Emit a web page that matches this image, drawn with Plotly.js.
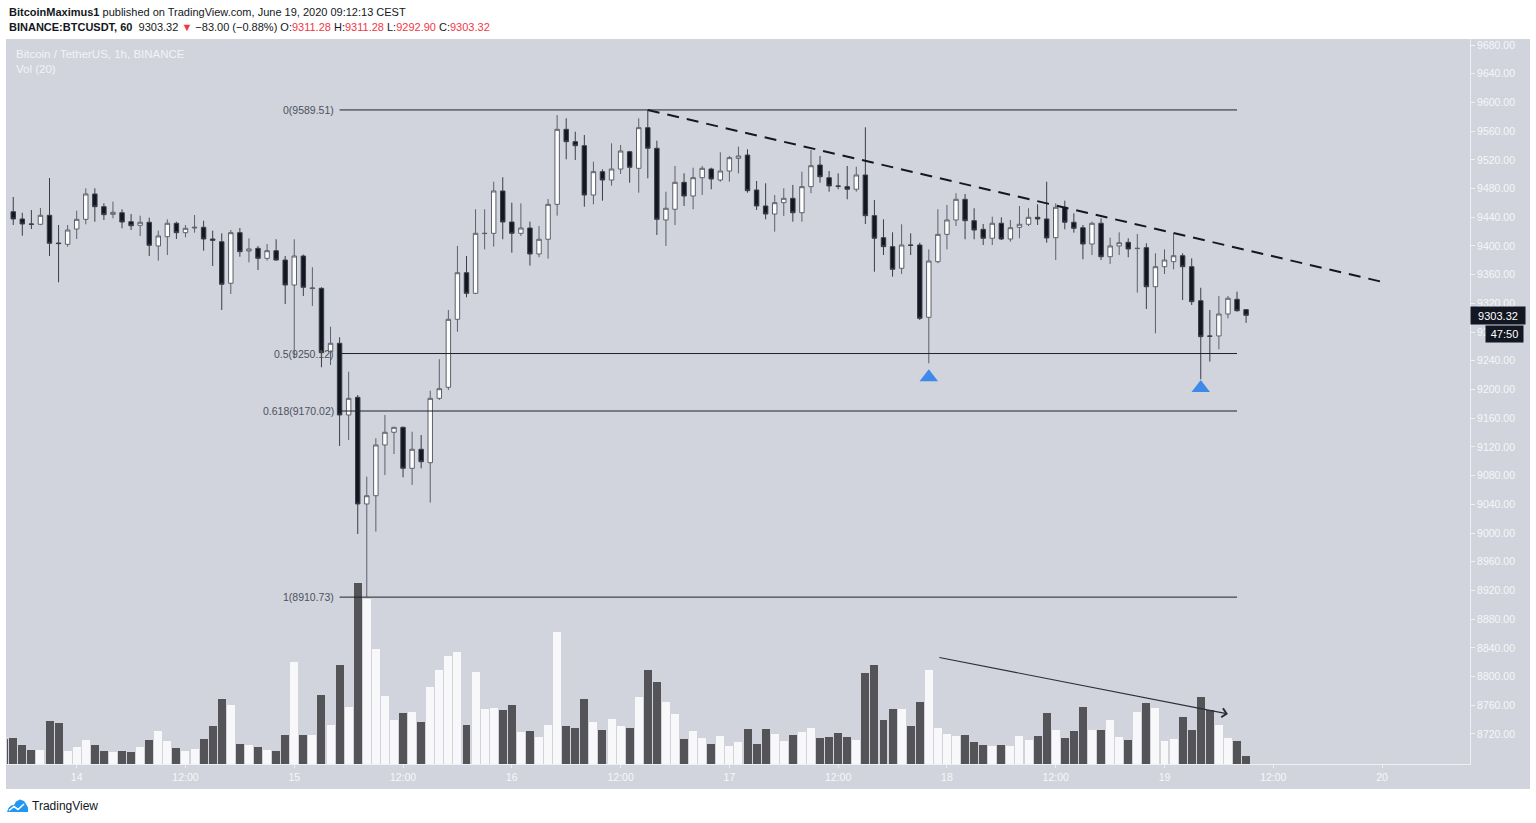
<!DOCTYPE html>
<html><head><meta charset="utf-8">
<script src="https://cdn.plot.ly/plotly-3.0.1.min.js"></script>
<style>html,body{margin:0;padding:0;background:#fff;overflow:hidden}#chart{width:1536px;height:823px}</style>
</head><body><div id="chart"></div>
<script>
// ---------- DATA ----------
const startTime = '2020-06-13T16:00:00Z'; // first (partly hidden) hourly candle
const openP = [
9447.3,9447.7,9437.6,9430.6,9430.2,9442.7,9404.1,9402.3,9423.6,9437.1,
9472.4,9454.7,9444.1,9446.3,9433.8,9428.8,9433.0,9400.0,9412.9,9431.6,
9418.5,9425.0,9426.0,9409.7,9405.9,9348.0,9418.5,9393.0,9396.7,9382.8,
9393.4,9380.4,9345.6,9386.0,9340.6,9341.0,9252.7,9264.4,9164.5,9189.1,
9040.5,9052.0,9122.7,9140.4,9147.3,9090.2,9116.7,9098.0,9187.7,9203.1,
9297.8,9362.7,9334.0,9417.2,9417.6,9476.6,9433.4,9417.6,9425.0,9388.8,
9409.3,9458.0,9562.5,9545.3,9539.7,9471.0,9503.5,9491.9,9507.2,9531.3,
9508.2,9564.8,9536.1,9436.2,9451.1,9488.7,9469.6,9495.1,9507.2,9491.9,
9504.4,9522.1,9526.7,9478.0,9455.7,9444.5,9460.3,9466.4,9446.3,9482.6,
9512.8,9495.1,9483.6,9482.6,9479.0,9498.9,9442.2,9411.5,9399.0,9368.9,
9401.3,9401.3,9300.6,9378.1,9416.2,9436.2,9465.0,9435.2,9423.2,9410.7,
9431.6,9409.7,9426.0,9430.2,9439.9,9437.6,9411.5,9453.9,9433.0,9425.4,
9402.7,9431.6,9385.0,9400.0,9405.1,9396.3,9397.6,9343.2,9371.1,9378.1,
9386.4,9371.1,9323.7,9274.6,9274.6,9305.2,9325.7,9311.28];
const highP = [
9448.7,9468.2,9446.3,9450.1,9452.9,9494.7,9429.2,9429.2,9449.1,9480.3,
9480.3,9459.4,9461.7,9451.1,9444.5,9442.2,9439.4,9421.3,9437.1,9433.8,
9429.2,9443.1,9435.2,9421.3,9417.6,9422.2,9425.0,9410.7,9400.0,9402.7,
9409.3,9386.0,9409.3,9388.0,9370.3,9342.4,9287.5,9272.7,9224.8,9192.3,
9078.5,9132.0,9164.5,9148.0,9148.5,9141.2,9136.6,9198.3,9242.1,9310.8,
9400.0,9386.0,9451.1,9451.1,9489.5,9495.7,9460.3,9459.4,9433.8,9427.8,
9465.4,9582.5,9577.9,9559.2,9554.6,9517.4,9506.8,9543.0,9540.7,9532.5,
9577.9,9589.51,9546.7,9475.6,9511.4,9501.2,9509.0,9511.4,9509.0,9530.5,
9525.4,9538.3,9534.7,9490.5,9487.3,9471.0,9480.3,9485.0,9503.5,9533.7,
9525.4,9504.4,9501.2,9511.4,9510.4,9565.3,9464.0,9437.1,9419.0,9430.2,
9417.6,9404.5,9395.3,9451.1,9457.1,9473.4,9472.4,9452.5,9430.6,9440.8,
9439.9,9436.2,9455.7,9452.5,9458.0,9489.5,9459.4,9463.1,9445.5,9429.2,
9433.8,9438.5,9411.5,9419.0,9410.7,9416.7,9403.7,9389.8,9395.3,9417.6,
9389.8,9382.8,9341.8,9310.8,9330.3,9330.3,9336.3,9311.28];
const lowP = [
9427.8,9429.2,9414.3,9423.6,9429.0,9386.0,9349.4,9399.0,9409.7,9430.2,
9433.8,9436.2,9438.5,9424.6,9422.2,9413.9,9386.0,9379.5,9387.4,9409.7,
9412.1,9418.5,9393.4,9372.1,9310.8,9333.1,9385.0,9377.2,9366.5,9379.5,
9379.5,9319.1,9243.5,9330.3,9316.4,9231.0,9234.1,9121.3,9129.6,8998.7,
8910.73,9001.9,9080.9,9110.1,9077.7,9067.0,9090.2,9042.3,9185.4,9199.3,
9280.5,9328.5,9333.1,9395.3,9399.0,9409.3,9390.6,9413.9,9372.5,9384.2,
9382.3,9442.2,9520.7,9519.8,9454.7,9458.0,9463.1,9484.0,9500.3,9488.1,
9474.2,9494.3,9415.3,9400.0,9429.2,9455.7,9451.1,9471.0,9479.0,9489.5,
9489.5,9501.2,9474.2,9450.1,9437.1,9419.9,9441.7,9433.8,9433.8,9473.4,
9488.1,9475.6,9479.0,9465.0,9475.6,9430.6,9364.1,9387.4,9357.2,9361.0,
9387.4,9296.8,9236.5,9376.0,9395.3,9427.8,9409.3,9409.3,9401.3,9401.3,
9408.3,9406.0,9410.7,9427.8,9429.2,9404.5,9380.4,9423.2,9418.5,9381.4,
9387.4,9380.4,9374.9,9387.4,9384.2,9334.9,9312.2,9278.3,9360.9,9367.5,
9324.7,9317.7,9214.2,9238.8,9256.0,9299.2,9308.4,9292.90];
const closeP = [
9430.6,9437.6,9430.6,9430.2,9442.7,9403.7,9403.3,9422.2,9437.1,9472.4,
9454.7,9443.6,9446.9,9433.4,9428.2,9433.0,9400.9,9413.9,9431.6,9418.5,
9424.6,9426.0,9409.7,9407.9,9346.6,9418.5,9392.0,9395.8,9382.8,9393.4,
9380.4,9345.6,9386.0,9342.4,9341.4,9251.3,9264.4,9164.5,9187.7,9040.5,
9052.0,9122.7,9140.4,9147.3,9090.2,9116.7,9099.4,9187.7,9201.1,9297.8,
9362.7,9334.0,9417.6,9417.6,9476.6,9433.4,9417.6,9425.0,9388.8,9409.3,
9458.0,9562.5,9545.3,9539.7,9471.0,9503.5,9491.9,9507.2,9532.3,9509.6,
9564.8,9536.1,9437.1,9452.5,9488.7,9469.6,9495.1,9508.2,9493.3,9504.4,
9523.0,9525.4,9477.0,9455.7,9444.5,9460.3,9466.4,9446.3,9482.6,9511.8,
9496.5,9483.6,9483.1,9479.0,9498.9,9442.2,9410.7,9399.0,9367.5,9401.3,
9400.9,9299.2,9379.0,9416.2,9436.2,9465.0,9435.2,9422.2,9410.7,9431.6,
9409.7,9425.4,9430.2,9439.9,9437.6,9411.1,9453.9,9433.0,9424.6,9402.7,
9431.6,9385.0,9400.0,9404.5,9395.8,9396.7,9343.2,9371.1,9380.4,9386.4,
9371.1,9322.4,9273.6,9274.1,9305.2,9327.1,9309.8,9303.32];
const volumeBTC = [
625,650,468,343,358,1068,1033,318,425,608,
468,318,293,318,293,425,608,825,568,408,
325,383,633,943,1633,1483,493,468,425,358,
318,733,2550,718,718,1733,968,2483,1433,4533,
4133,2868,1708,1100,1283,1300,1043,1925,2343,2693,
2793,983,2300,1383,1408,1343,1483,808,833,668,
983,3293,943,893,1633,1050,850,1118,943,888,
1675,2350,2058,1550,1250,618,825,643,508,708,
443,543,875,508,875,743,583,733,800,893,
650,668,783,668,608,2283,2483,1100,1368,1368,
943,1543,2350,893,758,693,733,543,468,443,
468,443,708,600,708,1275,850,650,833,1433,
850,850,1100,668,608,1300,1525,1408,583,625,
1183,850,1675,1343,983,643,583,200];

const tickTimes = ['2020-06-14 00:00','2020-06-14 12:00','2020-06-15 00:00','2020-06-15 12:00','2020-06-16 00:00','2020-06-16 12:00','2020-06-17 00:00','2020-06-17 12:00','2020-06-18 00:00','2020-06-18 12:00','2020-06-19 00:00','2020-06-19 12:00','2020-06-20 00:00'];
const tickLabels = ['14','12:00','15','12:00','16','12:00','17','12:00','18','12:00','19','12:00','20'];
const priceTicks = [8720,8760,8800,8840,8880,8920,8960,9000,9040,9080,9120,9160,9200,9240,9280,9320,9360,9400,9440,9480,9520,9560,9600,9640,9680];
const priceTickLabels = ['8720.00','8760.00','8800.00','8840.00','8880.00','8920.00','8960.00','9000.00','9040.00','9080.00','9120.00','9160.00','9200.00','9240.00','9280.00','9320.00','9360.00','9400.00','9440.00','9480.00','9520.00','9560.00','9600.00','9640.00','9680.00'];

const fibLevels = ['0','0.5','0.618','1'];
const fibPrices = [9589.51, 9250.12, 9170.02, 8910.73];
const fibFrom = '2020-06-15 05:00', fibTo = '2020-06-19 08:00';
const trendX = ['2020-06-16 15:00','2020-06-20 00:00'];
const trendY = [9589.51, 9350];
const markTimes = ['2020-06-17 22:00','2020-06-19 04:00'];
const markPrices = [9217, 9202];
const volArrowX = ['2020-06-17 23:00','2020-06-19 07:00'];
const volArrowY = [8827, 8748];
const lastClose = 9303.32;
const countdown = '47:50';

// ---------- BUILD ----------
function fmt(d){const p=n=>String(n).padStart(2,'0');return d.getUTCFullYear()+'-'+p(d.getUTCMonth()+1)+'-'+p(d.getUTCDate())+' '+p(d.getUTCHours())+':00';}
const t0 = Date.parse(startTime);
const times = openP.map((_,i)=>fmt(new Date(t0 + i*3600000)));
const volColors = openP.map((o,i)=> closeP[i] >= o ? '#f8f8fa' : '#535358');

const W=1536,H=823,L=7,R=66,T=39,B=59;
const pw=W-L-R, ph=H-T-B;
const px = x => (x-L)/pw;
const py = y => (H-B-y)/ph;

const FONT = 'Liberation Sans, Arial, sans-serif';
const AX = '#f6f7fa';

const traces = [
 {type:'bar', x:times, y:volumeBTC, marker:{color:volColors, line:{width:0}}, width:0.88*3600000,
  xaxis:'x', yaxis:'y2', hoverinfo:'skip'},
 {type:'candlestick', x:times, open:openP, high:highP, low:lowP, close:closeP,
  increasing:{line:{color:'#5d606b', width:1}, fillcolor:'#ffffff'},
  decreasing:{line:{color:'#3b3e47', width:1}, fillcolor:'#131722'},
  whiskerwidth:0, hoverinfo:'skip', xaxis:'x', yaxis:'y'},
 {type:'scatter', mode:'markers', x:markTimes, y:markPrices,
  marker:{symbol:'triangle-up', size:16, color:'#3f8ae8', line:{width:0}}, hoverinfo:'skip'}
];

const shapes = [
 {type:'rect', xref:'paper', yref:'paper', x0:px(6), x1:px(1530), y0:py(789), y1:py(39),
  fillcolor:'#d1d4dc', line:{width:0}, layer:'below'},
 {type:'line', xref:'x', yref:'y', x0:trendX[0], x1:trendX[1], y0:trendY[0], y1:trendY[1],
  line:{color:'#131722', width:2, dash:'12px,8px'}}
];
fibPrices.forEach(p=>shapes.push({type:'line', xref:'x', yref:'y', x0:fibFrom, x1:fibTo, y0:p, y1:p,
  line:{color:'#1e222d', width:1}}));
// TradingView logo glyph
const lg = pts => 'M'+pts.map(a=>px(a[0])+','+py(a[1])).join(' L')+' Z';
shapes.push({type:'path', xref:'paper', yref:'paper', path: lg([[7,812],[8.5,808],[11,805.5],[14,805],[16,801.5],[20,799.5],[24,801],[26,804],[28,807.5],[28,812]]),
  fillcolor:'#2196f3', line:{width:0}});
shapes.push({type:'path', xref:'paper', yref:'paper', path:'M'+px(9)+','+py(810.5)+' L'+px(14)+','+py(806.5)+' L'+px(18)+','+py(809.5)+' L'+px(24)+','+py(804),
  line:{color:'#ffffff', width:1.6}});

const red = s => '<span style="color:#f23645">'+s+'</span>';
const annotations = [
 {xref:'paper', yref:'paper', x:0, y:py(12), xanchor:'left', yanchor:'middle', showarrow:false,
  text:'<b>BitcoinMaximus1</b> published on TradingView.com, June 19, 2020 09:12:13 CEST',
  font:{family:FONT, size:11, color:'#131722'}},
 {xref:'paper', yref:'paper', x:0, y:py(27), xanchor:'left', yanchor:'middle', showarrow:false,
  text:'<b>BINANCE:BTCUSDT, 60</b>  9303.32 '+red('▼')+' −83.00 (−0.88%) O:'+red('9311.28')+' H:'+red('9311.28')+' L:'+red('9292.90')+' C:'+red('9303.32'),
  font:{family:FONT, size:11, color:'#131722'}},
 {xref:'paper', yref:'paper', x:px(14), y:py(54), xanchor:'left', yanchor:'middle', showarrow:false,
  text:'Bitcoin / TetherUS, 1h, BINANCE', font:{family:FONT, size:11.5, color:'#f1f3f7'}},
 {xref:'paper', yref:'paper', x:px(14), y:py(69), xanchor:'left', yanchor:'middle', showarrow:false,
  text:'Vol (20)', font:{family:FONT, size:11.5, color:'#f1f3f7'}},
 {xref:'paper', yref:'paper', x:px(30), y:py(806), xanchor:'left', yanchor:'middle', showarrow:false,
  text:'TradingView', font:{family:FONT, size:12, color:'#131722'}},
 {xref:'paper', yref:'y', x:px(1470), y:lastClose, xanchor:'left', yanchor:'middle', showarrow:false,
  text:lastClose.toFixed(2), bgcolor:'#131722', width:50, height:13, borderpad:2,
  font:{family:FONT, size:11, color:'#ffffff'}},
 {xref:'paper', yref:'paper', x:px(1524), y:py(334), xanchor:'right', yanchor:'middle', showarrow:false,
  text:countdown, bgcolor:'#131722', width:33, height:12, borderpad:2,
  font:{family:FONT, size:11, color:'#ffffff'}},
 {xref:'x', yref:'y', axref:'x', ayref:'y', x:volArrowX[1], y:volArrowY[1], ax:volArrowX[0], ay:volArrowY[0],
  text:'', showarrow:true, arrowhead:4, arrowsize:1.6, arrowwidth:1.1, arrowcolor:'#2a2e39'}
];
fibPrices.forEach((p,i)=>annotations.push({xref:'paper', yref:'y', x:px(336), y:p, xanchor:'right', yanchor:'middle',
  showarrow:false, text:fibLevels[i]+'('+p.toFixed(2)+')', font:{family:FONT, size:10.5, color:'#4e515c'}}));

// x range from pixel calibration (9.065 px per hour, June 14 00:00 at x=76.7)
const hourPx = 9.065, x0Px = 76.7, base = Date.parse('2020-06-14T00:00:00Z');
const toT = h => { const d=new Date(base + h*3600000); const p=n=>String(n).padStart(2,'0');
  return d.getUTCFullYear()+'-'+p(d.getUTCMonth()+1)+'-'+p(d.getUTCDate())+' '+p(d.getUTCHours())+':'+p(d.getUTCMinutes())+':'+p(d.getUTCSeconds()); };
const xRange = [toT((L-x0Px)/hourPx), toT((L+pw-x0Px)/hourPx)];
// y range: 9680 at y=45, 0.7177 px per USD
const yRange = [9680-(H-B-45)/0.7177, 9680+(45-T)/0.7177];

const layout = {
 width:W, height:H, margin:{l:L, r:R, t:T, b:B, pad:0},
 paper_bgcolor:'#ffffff', plot_bgcolor:'#d1d4dc', showlegend:false,
 font:{family:FONT, color:AX},
 xaxis:{type:'date', range:xRange, rangeslider:{visible:false}, showgrid:false, zeroline:false,
   tickvals:tickTimes, ticktext:tickLabels, ticks:'outside', ticklen:3, tickcolor:'#eef0f4',
   showline:true, linecolor:'#eef0f4', linewidth:1, tickfont:{family:FONT, size:10.5, color:AX}, fixedrange:true},
 yaxis:{side:'right', range:yRange, showgrid:false, zeroline:false, tickvals:priceTicks, ticktext:priceTickLabels,
   ticks:'outside', ticklen:4, tickcolor:'#eef0f4', showline:true, linecolor:'#eef0f4', linewidth:1,
   tickfont:{family:FONT, size:10.5, color:AX}, fixedrange:true},
 yaxis2:{overlaying:'y', range:[0, ph*25], visible:false, fixedrange:true},
 shapes:shapes, annotations:annotations, bargap:0
};
Plotly.newPlot('chart', traces, layout, {displayModeBar:false, staticPlot:true});
</script></body></html>
